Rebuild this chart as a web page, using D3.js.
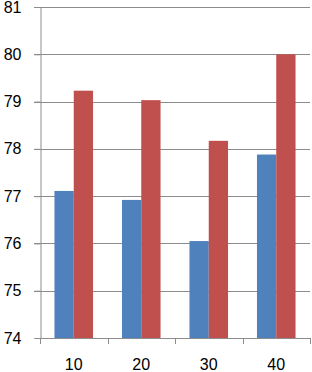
<!DOCTYPE html>
<html><head><meta charset="utf-8">
<script src="https://cdn.jsdelivr.net/npm/d3@7"></script>
<style>body{margin:0;background:#fff}svg{display:block}</style>
</head><body>
<svg id="c" width="312" height="372"></svg>
<script>
const categories = ["10","20","30","40"];
const blueValues = [77.11, 76.92, 76.05, 77.88];
const redValues  = [79.23, 79.03, 78.17, 80.0];
const yTicks = [74,75,76,77,78,79,80,81];

(function(){
const svg = d3.select("#c");
const mLeft = 40, mRight = 310, mTop = 7, mBottom = 338;
const x = d3.scaleBand().domain(categories).range([mLeft, mRight]).paddingInner(0).paddingOuter(0);
const y = d3.scaleLinear().domain([74, 81]).range([mBottom, mTop]);
const inner = d3.scaleBand().domain(["b","r"]).range([0, x.bandwidth()]).paddingOuter(0.75).paddingInner(0);

const grid = "#8c8c8c";
const font = "Liberation Sans, Arial, sans-serif";
svg.append("g").selectAll("line").data(yTicks.filter(t => t > 74)).join("line")
  .attr("x1", mLeft - 6).attr("x2", mRight)
  .attr("y1", d => Math.round(y(d)) + 0.5).attr("y2", d => Math.round(y(d)) + 0.5)
  .attr("stroke", grid).attr("stroke-width", 1);

const g = svg.append("g");
categories.forEach((c, i) => {
  g.append("rect").attr("x", x(c) + inner("b")).attr("width", inner.bandwidth())
    .attr("y", y(blueValues[i])).attr("height", mBottom - y(blueValues[i])).attr("fill", "#4F81BD");
  g.append("rect").attr("x", x(c) + inner("r")).attr("width", inner.bandwidth())
    .attr("y", y(redValues[i])).attr("height", mBottom - y(redValues[i])).attr("fill", "#C0504D");
});

const ya = svg.append("g").attr("transform", `translate(${mLeft + 0.5},0)`)
  .call(d3.axisLeft(y).tickValues(yTicks).tickFormat(d3.format("d")).tickSize(6).tickPadding(13));
ya.select(".domain").attr("stroke", grid);
ya.selectAll(".tick line").attr("stroke", grid);
ya.selectAll("text").attr("font-family", font).attr("font-size", 16).attr("fill", "#000");

const xa = svg.append("g").attr("transform", `translate(0,${mBottom + 0.5})`)
  .call(d3.axisBottom(x).tickSize(0).tickPadding(20));
xa.select(".domain").attr("stroke", grid).attr("d", `M${mLeft},0H${mRight}`);
xa.selectAll("text").attr("font-family", font).attr("font-size", 16).attr("fill", "#000");
svg.append("g").selectAll("line").data(categories.map(c => x(c)).concat([mRight])).join("line")
  .attr("x1", d => Math.round(d) + 0.5).attr("x2", d => Math.round(d) + 0.5)
  .attr("y1", mBottom).attr("y2", mBottom + 6).attr("stroke", grid);
})();
</script>
</body></html>
